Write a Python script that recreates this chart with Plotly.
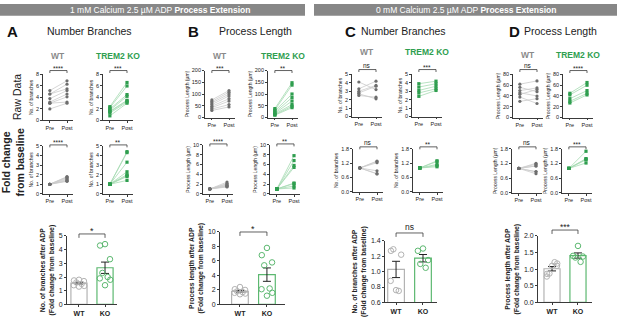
import plotly.graph_objects as go
import numpy as np

W, H = 617, 326
FONT = "Arial, 'Liberation Sans', Helvetica, sans-serif"
AX = "#3a3a3a"
WT_DOT = "#6e6e6e"
WT_LINE = "#cccccc"
WT_BAR = "#b3b3b3"
WT_TXT = "#8a8a8a"
KO = "#2f9e4f"
KO_LINE = "#a6dab2"
KO_BAR = "#5cb870"
HEADER = "#878787"

# ---------------- data ----------------
paired_labels = ["Pre", "Post"]
bar_labels = ["WT", "KO"]
group_titles = ["WT", "TREM2 KO"]
BASELINE = 1.0

# Panel A - number of branches (1 mM Ca)
A_wt_pre = [5.2, 4.6, 4.6, 3.8, 3.2, 3.0, 3.0, 2.0]
A_wt_post = [6.9, 6.3, 5.5, 5.2, 4.6, 4.1, 3.2, 3.0]
A_ko_pre = [2.4, 2.2, 2.0, 1.8, 1.6, 1.5, 1.3, 0.8]
A_ko_post = [6.6, 6.0, 4.5, 4.2, 3.5, 3.4, 3.2, 3.0]
A_wt_fold = [1.8, 1.75, 1.7, 1.6, 1.5, 1.4, 1.35, 1.3]
A_ko_fold = [4.4, 4.3, 3.3, 2.3, 2.0, 1.9, 1.8, 1.4]

# Panel B - process length (1 mM Ca)
B_wt_pre = [75, 68, 62, 55, 48, 42, 36, 30]
B_wt_post = [115, 108, 100, 92, 80, 70, 55, 45]
B_ko_pre = [38, 32, 28, 22, 18, 15, 12, 10]
B_ko_post = [148, 138, 100, 85, 70, 55, 48, 42]
B_wt_fold = [2.4, 2.1, 2.0, 1.8, 1.7, 1.6, 1.5, 1.4]
B_ko_fold = [7.8, 6.8, 5.8, 5.4, 2.2, 2.1, 1.6, 1.2]

# Panel C - number of branches (0 mM Ca)
C_wt_pre = [4.1, 3.3, 3.0, 2.8, 2.7, 2.5]
C_wt_post = [3.2, 4.2, 3.7, 3.6, 2.1, 2.3]
C_ko_pre = [3.9, 3.5, 3.1, 2.8, 2.4]
C_ko_post = [4.2, 3.9, 3.6, 3.3, 3.1]
C_wt_fold = [0.76, 1.27, 1.22, 1.29, 0.75, 0.88]
C_ko_fold = [1.30, 1.27, 1.15, 1.10, 1.05]

# Panel D - process length (0 mM Ca)
D_wt_pre = [62, 56, 50, 46, 43, 38, 30]
D_wt_post = [68, 48, 55, 40, 52, 26, 35]
D_ko_pre = [45, 42, 35, 30, 27]
D_ko_post = [65, 60, 50, 45, 42]
D_wt_fold = [1.10, 0.86, 1.10, 0.87, 1.21, 0.78, 1.17]
D_ko_fold = [1.70, 1.40, 1.38, 1.35, 1.22]

# horizontal spread of dots inside each bar (style only)
JIT = [0.0, -0.19, 0.19, -0.1, 0.1, -0.2, 0.2, 0.0]

# ---------------- helpers ----------------
fig = go.Figure()
layout = dict(width=W, height=H, margin=dict(l=0, r=0, t=0, b=0),
              paper_bgcolor="white", plot_bgcolor="rgba(0,0,0,0)",
              showlegend=False, font=dict(family=FONT, color="#222"))
shapes, annotations = [], []
count = [0]


def make_axes(x0, x1, ytop, ybot, xr, yr, yticks, yfmt, xtext, xsize, ytitle, tsize, ticksize, standoff=2):
    count[0] += 1
    n = count[0]
    key = "" if n == 1 else str(n)
    xid, yid = "x" + key, "y" + key
    layout["xaxis" + key] = dict(
        domain=[x0 / W, x1 / W], range=xr, anchor=yid, showline=True, linecolor=AX,
        linewidth=0.8, ticks="outside", ticklen=2, tickwidth=0.8, tickcolor=AX,
        tickmode="array", tickvals=[0, 1], ticktext=xtext, tickfont=dict(size=xsize, color="#222"),
        showgrid=False, zeroline=False, fixedrange=True)
    layout["yaxis" + key] = dict(
        domain=[1 - ybot / H, 1 - ytop / H], range=yr, anchor=xid, showline=True, linecolor=AX,
        linewidth=0.8, ticks="outside", ticklen=2, tickwidth=0.8, tickcolor=AX,
        tickmode="array", tickvals=yticks, ticktext=[yfmt.format(v) for v in yticks],
        tickfont=dict(size=ticksize, color="#222"), showgrid=False, zeroline=False, fixedrange=True,
        title=dict(text=ytitle, font=dict(size=tsize, color="#222"), standoff=standoff))
    return xid, yid


def bracket(xid, yid, plot_h, above_px, tick_px, text, tsize, yshift):
    yb = 1 + above_px / plot_h
    yt = yb - tick_px / plot_h
    dref = yid + " domain"
    for (a, b, c, d) in [(0, yt, 0, yb), (0, yb, 1, yb), (1, yb, 1, yt)]:
        shapes.append(dict(type="line", xref=xid, yref=dref, x0=a, y0=b, x1=c, y1=d,
                           line=dict(color=AX, width=0.8)))
    annotations.append(dict(text=text, xref=xid, yref=dref, x=0.5, y=yb, xanchor="center",
                            yanchor="bottom", showarrow=False, borderpad=0,
                            font=dict(size=tsize, color="#222"), yshift=yshift))


def paired(x0, ytop, ybot, pre, post, ko, yr, yticks, yfmt, ytitle, sig, above_px,
           title=None, title_y=None):
    xid, yid = make_axes(x0, x0 + 30, ytop, ybot, [-0.4, 1.35], yr, yticks, yfmt,
                         paired_labels, 5.5, ytitle, 5, 5.5)
    xs, ys = [], []
    for a, b in zip(pre, post):
        xs += [0, 1, None]
        ys += [a, b, None]
    fig.add_trace(go.Scatter(
        x=xs, y=ys, xaxis=xid, yaxis=yid, mode="lines+markers",
        line=dict(color=KO_LINE if ko else WT_LINE, width=0.8),
        marker=dict(color=KO if ko else WT_DOT, size=3.2, symbol="square" if ko else "circle"),
        cliponaxis=False, hoverinfo="skip"))
    bracket(xid, yid, ybot - ytop, above_px, 2.5, sig, 6.5, -2 if "*" in sig else 0)
    if title:
        annotations.append(dict(text="<b>%s</b>" % title, xref=xid, x=0.5, yref="paper",
                                y=1 - title_y / H, xanchor="center", yanchor="middle",
                                showarrow=False, borderpad=0,
                                font=dict(size=8.5, color=KO if ko else WT_TXT)))


def barplot(x0, x1, ytop, ybot, xr, yr, yticks, yfmt, wt, ko, ytitle, sig, above_px, sig_size):
    xid, yid = make_axes(x0, x1, ytop, ybot, xr, yr, yticks, yfmt,
                         ["<b>%s</b>" % s for s in bar_labels], 7, ytitle, 6.8, 7, standoff=3)
    means = [float(np.mean(wt)), float(np.mean(ko))]
    sems = [float(np.std(v, ddof=1) / np.sqrt(len(v))) for v in (wt, ko)]
    fig.add_trace(go.Bar(
        x=[0, 1], y=means, width=0.62, xaxis=xid, yaxis=yid,
        marker=dict(color="white", line=dict(color=[WT_BAR, KO_BAR], width=1.2)),
        error_y=dict(type="data", array=sems, color="#222", thickness=1, width=4),
        hoverinfo="skip"))
    for i, (vals, col) in enumerate([(wt, WT_BAR), (ko, KO_BAR)]):
        fig.add_trace(go.Scatter(
            x=[i + JIT[k] for k in range(len(vals))], y=vals, xaxis=xid, yaxis=yid,
            mode="markers", marker=dict(symbol="circle-open", size=5.5, color=col, line=dict(width=1)),
            cliponaxis=False, hoverinfo="skip"))
    bracket(xid, yid, ybot - ytop, above_px, 4, sig, sig_size, -3 if "*" in sig else 0)


BR = "No. of branches"
PL = "Process Length (µm)"
BAR_BR = "<b>No. of branches after ADP</b><br><b>(Fold change from baseline)</b>"
BAR_PL = "<b>Process length after ADP</b><br><b>(Fold change from baseline)</b>"

# ---------------- Panel A ----------------
paired(43, 72, 119, A_wt_pre, A_wt_post, False, [0, 8], [0, 2, 4, 6, 8], "{:g}", BR, "****", 4, group_titles[0], 53)
paired(103, 72, 119, A_ko_pre, A_ko_post, True, [0, 8], [0, 2, 4, 6, 8], "{:g}", BR, "***", 4, group_titles[1], 53)
paired(43, 145, 194, [BASELINE] * len(A_wt_fold), A_wt_fold, False, [0, 5], [0, 1, 2, 3, 4, 5], "{:g}", BR, "****", 1)
paired(103, 145, 194, [BASELINE] * len(A_ko_fold), A_ko_fold, True, [0, 5], [0, 1, 2, 3, 4, 5], "{:g}", BR, "**", 1)
barplot(67, 117, 237, 307, [-0.46, 1.46], [0, 5], [0, 1, 2, 3, 4, 5], "{:g}", A_wt_fold, A_ko_fold, BAR_BR, "*", 2, 9)

# ---------------- Panel B ----------------
paired(205, 68, 116, B_wt_pre, B_wt_post, False, [0, 200], [0, 50, 100, 150, 200], "{:g}", PL, "***", 0, group_titles[0], 53)
paired(268, 68, 116, B_ko_pre, B_ko_post, True, [0, 200], [0, 50, 100, 150, 200], "{:g}", PL, "**", 0, group_titles[1], 53)
paired(203, 144, 194, [BASELINE] * len(B_wt_fold), B_wt_fold, False, [0, 10], [0, 2, 4, 6, 8, 10], "{:g}", PL, "****", 1)
paired(270, 144, 194, [BASELINE] * len(B_ko_fold), B_ko_fold, True, [0, 10], [0, 2, 4, 6, 8, 10], "{:g}", PL, "**", 1)
barplot(220, 285, 233, 307, [-0.74, 1.67], [0, 10], [0, 2, 4, 6, 8, 10], "{:g}", B_wt_fold, B_ko_fold, BAR_PL, "*", 0, 9)

# ---------------- Panel C ----------------
paired(352, 72, 115, C_wt_pre, C_wt_post, False, [0, 5], [0, 1, 2, 3, 4, 5], "{:g}", BR, "ns", 5, group_titles[0], 49)
paired(412, 72, 115, C_ko_pre, C_ko_post, True, [0, 5], [0, 1, 2, 3, 4, 5], "{:g}", BR, "***", 5, group_titles[1], 49)
paired(353, 148, 192, [BASELINE] * len(C_wt_fold), C_wt_fold, False, [0, 1.8], [0, 0.6, 1.2, 1.8], "{:.1f}", BR, "ns", 2)
paired(413, 148, 192, [BASELINE] * len(C_ko_fold), C_ko_fold, True, [0, 1.8], [0, 0.6, 1.2, 1.8], "{:.1f}", BR, "**", 2)
barplot(385, 437, 242, 305, [-0.41, 1.52], [0.6, 1.4], [0.6, 0.8, 1.0, 1.2, 1.4], "{:.1f}", C_wt_fold, C_ko_fold, BAR_BR, "ns", 8, 8.5)

# ---------------- Panel D ----------------
paired(513, 72, 116, D_wt_pre, D_wt_post, False, [0, 80], [0, 20, 40, 60, 80], "{:g}", PL, "ns", 5, group_titles[0], 52)
paired(563, 72, 116, D_ko_pre, D_ko_post, True, [0, 80], [0, 20, 40, 60, 80], "{:g}", PL, "****", 4, group_titles[1], 52)
paired(512, 148, 193, [BASELINE] * len(D_wt_fold), D_wt_fold, False, [0, 1.8], [0, 0.6, 1.2, 1.8], "{:.1f}", PL, "ns", 2)
paired(562, 148, 193, [BASELINE] * len(D_ko_fold), D_ko_fold, True, [0, 1.8], [0, 0.6, 1.2, 1.8], "{:.1f}", PL, "***", 2)
barplot(538, 592, 237, 305, [-0.54, 1.54], [0, 2], [0, 0.5, 1.0, 1.5, 2.0], "{:.1f}", D_wt_fold, D_ko_fold, BAR_PL, "***", 6, 8.5)

# ---------------- headers, labels ----------------
def paper_text(text, xpx, ypx, size, color="#222", angle=0):
    annotations.append(dict(text=text, xref="paper", yref="paper", x=xpx / W, y=1 - ypx / H,
                            xanchor="center", yanchor="middle", showarrow=False, borderpad=0,
                            textangle=angle, font=dict(size=size, color=color)))

shapes.append(dict(type="rect", xref="paper", yref="paper", x0=0, x1=305 / W, y0=1 - 12 / H, y1=1,
                   fillcolor=HEADER, line=dict(width=0), layer="below"))
shapes.append(dict(type="rect", xref="paper", yref="paper", x0=314 / W, x1=1, y0=1 - 12 / H, y1=1,
                   fillcolor=HEADER, line=dict(width=0), layer="below"))
paper_text("1 mM Calcium 2.5 µM ADP <b>Process Extension</b>", 160, 6, 8.5, "white")
paper_text("0 mM Calcium 2.5 µM ADP <b>Process Extension</b>", 466, 6, 8.5, "white")

paper_text("<b>A</b>", 12, 28, 15, "#111")
paper_text("Number Branches", 90, 28, 10.5)
paper_text("<b>B</b>", 193, 28, 15, "#111")
paper_text("Process Length", 255, 28, 10.5)
paper_text("<b>C</b>", 350, 28, 15, "#111")
paper_text("Number Branches", 403, 28, 10.5)
paper_text("<b>D</b>", 514, 28, 15, "#111")
paper_text("Process Length", 560, 28, 10.5)

paper_text("Raw Data", 17, 95, 10.5, angle=-90)
paper_text("<b>Fold change</b><br><b>from baseline</b>", 13, 162, 10.5, angle=-90)

layout["shapes"] = shapes
layout["annotations"] = annotations
fig.update_layout(**layout)
fig.write_html("out.html", config={"displayModeBar": False},
               post_script="document.body.style.margin='0';document.body.style.padding='0';")
